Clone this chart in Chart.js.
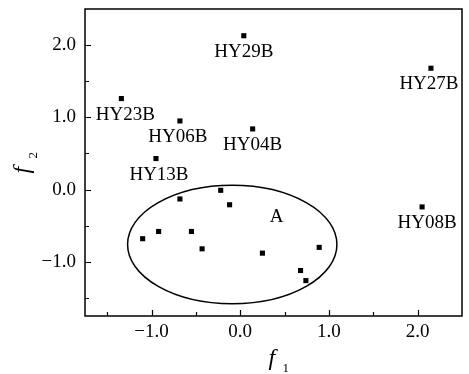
<!DOCTYPE html>
<html>
<head>
<meta charset="utf-8">
<script src="https://cdn.jsdelivr.net/npm/chart.js@4.4.1/dist/chart.umd.min.js"></script>
<style>
html,body{margin:0;padding:0;background:#fff;}
canvas{display:block;}
</style>
</head>
<body>
<canvas id="c" width="469" height="374"></canvas>
<script>
// ---- data ----
const sampleNames = ['HY29B','HY27B','HY04B','HY23B','HY06B','HY13B','HY08B',
  '','','','','','','','','','',''];
const f1Values = [0.04, 2.15, 0.14, -1.34, -0.68, -0.95, 2.05,
  -0.22, -0.68, -0.12, -1.10, -0.92, -0.55, -0.43, 0.25, 0.89, 0.68, 0.74];
const f2Values = [2.13, 1.68, 0.84, 1.26, 0.95, 0.43, -0.24,
  -0.01, -0.13, -0.21, -0.68, -0.58, -0.58, -0.82, -0.88, -0.80, -1.12, -1.26];
const xTickValues = [-1.5, -1.0, -0.5, 0.0, 0.5, 1.0, 1.5, 2.0];
const yTickValues = [-1.5, -1.0, -0.5, 0.0, 0.5, 1.0, 1.5, 2.0];
const xLabeledTicks = [-1.0, 0.0, 1.0, 2.0];
const yLabeledTicks = [-1.0, 0.0, 1.0, 2.0];
// group A ellipse: center x, center y, radius x, radius y (data units)
const groupEllipse = [-0.09, -0.76, 1.18, 0.82];
const groupLabel = ['A', 0.41, -0.38];

// ---- styles (label nudges in px, not data) ----
const labelNudgeX = {HY29B:0, HY27B:-2, HY04B:0, HY23B:4, HY06B:-2, HY13B:3, HY08B:5};
const FONT = '"Liberation Serif", "Times New Roman", serif';

const points = f1Values.map((x, i) => ({x: x, y: f2Values[i], name: sampleNames[i]}));

function fmt(v){ return v.toFixed(1).replace('-', '\u2212'); }
function isLabeled(arr, v){ return arr.some(a => Math.abs(a - v) < 1e-9); }

const decor = {
  id: 'decor',
  beforeDatasetsDraw(chart){
    const {ctx, scales:{x, y}} = chart;
    const cx = x.getPixelForValue(groupEllipse[0]);
    const cy = y.getPixelForValue(groupEllipse[1]);
    const rx = Math.abs(x.getPixelForValue(groupEllipse[0] + groupEllipse[2]) - cx);
    const ry = Math.abs(y.getPixelForValue(groupEllipse[1] + groupEllipse[3]) - cy);
    ctx.save();
    ctx.beginPath();
    ctx.ellipse(cx, cy, rx, ry, 0, 0, Math.PI * 2);
    ctx.strokeStyle = '#000';
    ctx.lineWidth = 1.5;
    ctx.stroke();
    ctx.fillStyle = '#000';
    ctx.font = '19px ' + FONT;
    ctx.textAlign = 'center';
    ctx.textBaseline = 'middle';
    ctx.fillText(groupLabel[0], x.getPixelForValue(groupLabel[1]), y.getPixelForValue(groupLabel[2]));
    ctx.restore();
  },
  afterDraw(chart){
    const {ctx, chartArea:a, scales:{x, y}} = chart;
    ctx.save();
    ctx.strokeStyle = '#000';
    ctx.fillStyle = '#000';
    // frame
    ctx.lineWidth = 1.5;
    ctx.strokeRect(a.left, a.top, a.right - a.left, a.bottom - a.top);
    // inward ticks
    ctx.lineWidth = 1.2;
    ctx.beginPath();
    xTickValues.forEach(v => {
      const px = Math.round(x.getPixelForValue(v)) + 0.5;
      const len = isLabeled(xLabeledTicks, v) ? 6 : 4;
      ctx.moveTo(px, a.bottom); ctx.lineTo(px, a.bottom - len);
    });
    yTickValues.forEach(v => {
      const py = Math.round(y.getPixelForValue(v)) + 0.5;
      const len = isLabeled(yLabeledTicks, v) ? 6 : 4;
      ctx.moveTo(a.left, py); ctx.lineTo(a.left + len, py);
    });
    ctx.stroke();
    // point labels
    ctx.font = '19px ' + FONT;
    ctx.textAlign = 'center';
    ctx.textBaseline = 'alphabetic';
    points.forEach(p => {
      if (!p.name) return;
      const px = x.getPixelForValue(p.x) + (labelNudgeX[p.name] || 0);
      const py = y.getPixelForValue(p.y) + 21;
      ctx.fillText(p.name, px, py);
    });
    // axis titles
    const xc = (a.left + a.right) / 2;
    ctx.textAlign = 'left';
    ctx.font = 'italic 24px ' + FONT;
    ctx.fillText('f', xc - 5, 365);
    ctx.font = '13px ' + FONT;
    ctx.fillText('1', xc + 9, 372);
    const yc = (a.top + a.bottom) / 2;
    ctx.translate(29, yc);
    ctx.rotate(-Math.PI / 2);
    ctx.font = 'italic 24px ' + FONT;
    ctx.fillText('f', -11, 0);
    ctx.font = '13px ' + FONT;
    ctx.fillText('2', 4, 8);
    ctx.restore();
  }
};

new Chart(document.getElementById('c'), {
  type: 'scatter',
  data: {
    datasets: [{
      data: points,
      pointStyle: 'rect',
      pointRadius: 3.6,
      pointHoverRadius: 3.6,
      backgroundColor: '#000',
      borderColor: '#000',
      borderWidth: 0
    }]
  },
  options: {
    responsive: false,
    animation: false,
    events: [],
    layout: {padding: {top: 9, right: 7, left: 0, bottom: 0}},
    plugins: {legend: {display: false}, tooltip: {enabled: false}},
    scales: {
      x: {
        type: 'linear', min: -1.75, max: 2.5,
        afterBuildTicks(s){ s.ticks = xTickValues.map(v => ({value: v})); },
        afterFit(s){ s.height = 58; s.paddingLeft = 0; s.paddingRight = 0; },
        grid: {display: false, drawTicks: false},
        border: {display: false},
        ticks: {
          autoSkip: false, maxRotation: 0, padding: 5, color: '#000',
          font: {family: FONT, size: 19},
          callback: v => isLabeled(xLabeledTicks, v) ? fmt(v) : ''
        }
      },
      y: {
        type: 'linear', min: -1.75, max: 2.5,
        afterBuildTicks(s){ s.ticks = yTickValues.map(v => ({value: v})); },
        afterFit(s){ s.width = 85; s.paddingTop = 0; s.paddingBottom = 0; },
        grid: {display: false, drawTicks: false},
        border: {display: false},
        ticks: {
          autoSkip: false, padding: 9, color: '#000',
          font: {family: FONT, size: 19},
          callback: v => isLabeled(yLabeledTicks, v) ? fmt(v) : ''
        }
      }
    }
  },
  plugins: [decor]
});
</script>
</body>
</html>
